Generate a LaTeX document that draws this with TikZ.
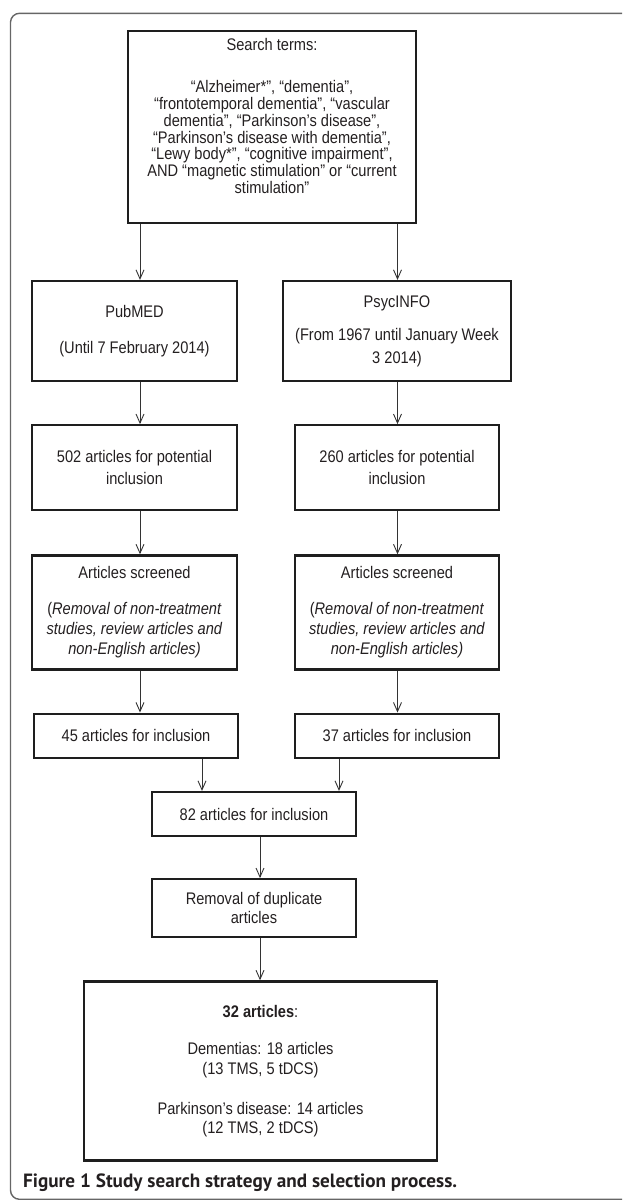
\documentclass[tikz,border=0pt]{standalone}
\usepackage{fontspec}
\setmainfont{Liberation Sans}[FakeStretch=0.87]
\newfontfamily\capfont{PT Sans}
\usetikzlibrary{%
	positioning,
	arrows.meta
}
\definecolor{boxgray}{HTML}{1E1E1E}
\definecolor{txtgray}{HTML}{231F20}
\definecolor{arrgray}{HTML}{333333}

\begin{document}
\begin{tikzpicture}[x=1pt,y=-1pt,
		SBox/.style={draw=boxgray,line width=2.2pt,shape=rectangle,align=center,inner sep=0pt,text=txtgray,font=\fontsize{16.8}{20}\selectfont},
		SArrow/.style={draw=arrgray,line width=0.9pt,-{Straight Barb[length=9pt,width=8pt]}},
		outside/.style={draw=black!60,line width=1.4pt,rounded corners=9pt}
	]
	\useasboundingbox (0,0) rectangle (622,1200);

	\draw[outside] (622,13.3) -- (10.5,13.3) -- (10.5,1199.3) -- (622,1199.3);

	\node (search) [SBox, minimum width=288pt, minimum height=192pt, font=\fontsize{16.8}{16.7}\selectfont] at (272,127)
		{Search terms:\\[25.3pt]“Alzheimer*”, “dementia”,\\“frontotemporal dementia”, “vascular\\dementia”, “Parkinson’s disease”,\\“Parkinson’s disease with dementia”,\\“Lewy body*”, “cognitive impairment”,\\AND “magnetic stimulation” or “current\\stimulation”\\[5.3pt]\mbox{}};

	% PubMED
	\node (pubmed) [SBox, minimum width=205pt, minimum height=100pt] at (134.5,331) {PubMED\\[16pt](Until 7 February 2014)};
	\node (hits1) [SBox, minimum width=205pt, minimum height=85pt, below=42pt of pubmed] {502 articles for potential\\[2pt]inclusion};
	\node (screen1) [SBox, minimum width=205pt, minimum height=114pt, below=43pt of hits1] {Articles screened\\[16pt](\textit{Removal of non-treatment}\\\textit{studies, review articles and}\\\textit{non-English articles)}};
	\node (incl1) [SBox, minimum width=204pt, minimum height=44pt, below=42pt of screen1, xshift=1.5pt] {45 articles for inclusion};

	% PsycINFO
	\node (psyc) [SBox, minimum width=228pt, minimum height=100pt] at (397,331) {PsycINFO\\[13pt](From 1967 until January Week\\[3pt]3 2014)};
	\node (hits2) [SBox, minimum width=204pt, minimum height=85pt, below=42pt of psyc] {260 articles for potential\\[2pt]inclusion};
	\node (screen2) [SBox, minimum width=204pt, minimum height=114pt, below=43pt of hits2] {Articles screened\\[16pt](\textit{Removal of non-treatment}\\\textit{studies, review articles and}\\\textit{non-English articles)}};
	\node (incl2) [SBox, minimum width=204pt, minimum height=44pt, below=42pt of screen2] {37 articles for inclusion};

	% merged
	\node (total) [SBox, minimum width=204pt, minimum height=44pt] at (254,814) {82 articles for inclusion};
	\node (dup) [SBox, minimum width=204pt, minimum height=58pt, below=41pt of total] {Removal of duplicate\\[-1pt]articles};
	\node (final) [SBox, minimum width=353pt, minimum height=179pt, below=42pt of dup, xshift=6.5pt]
		{\textbf{32 articles}:\\[17pt]Dementias: 18 articles\\(13 TMS, 5 tDCS)\\[20pt]Parkinson’s disease: 14 articles\\[-1pt](12 TMS, 2 tDCS)};

	\node (caption) [anchor=west, inner sep=0pt, text=txtgray, font=\capfont\bfseries\fontsize{19.2}{22}\selectfont] at (23,1183) {Figure 1 Study search strategy and selection process.};

	\coordinate (lx) at (140,0);
	\coordinate (rx) at (397.5,0);
	\coordinate (jl) at (202,0);
	\coordinate (jr) at (339,0);
	\coordinate (mx) at (260,0);

	\draw[SArrow] (search.south -| lx) -- (pubmed.north -| lx);
	\draw[SArrow] (search.south -| rx) -- (psyc.north -| rx);
	\draw[SArrow] (pubmed.south -| lx) -- (hits1.north -| lx);
	\draw[SArrow] (psyc.south -| rx) -- (hits2.north -| rx);
	\draw[SArrow] (hits1.south -| lx) -- (screen1.north -| lx);
	\draw[SArrow] (hits2.south -| rx) -- (screen2.north -| rx);
	\draw[SArrow] (screen1.south -| lx) -- (incl1.north -| lx);
	\draw[SArrow] (screen2.south -| rx) -- (incl2.north -| rx);
	\draw[SArrow] (incl1.south -| jl) -- (total.north -| jl);
	\draw[SArrow] (incl2.south -| jr) -- (total.north -| jr);
	\draw[SArrow] (total.south -| mx) -- (dup.north -| mx);
	\draw[SArrow] (dup.south -| mx) -- (final.north -| mx);
\end{tikzpicture}
\end{document}
